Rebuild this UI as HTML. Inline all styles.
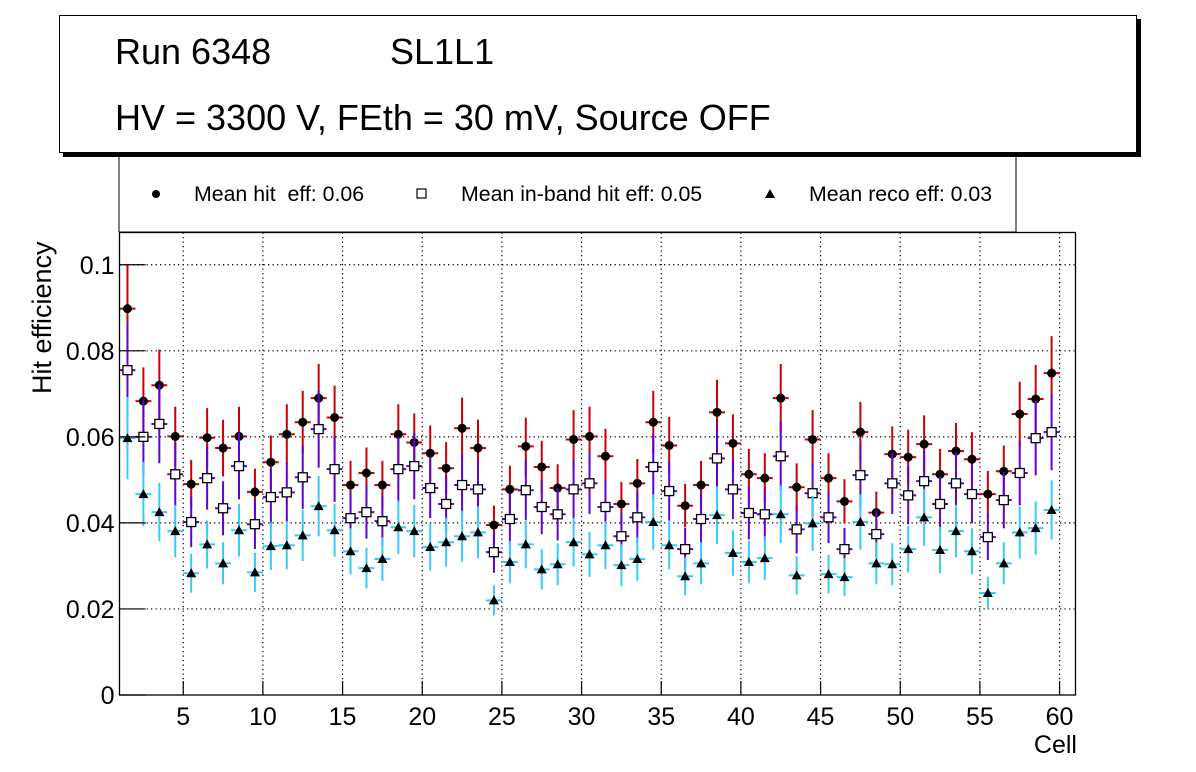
<!DOCTYPE html>
<html><head><meta charset="utf-8"><style>
body{margin:0;background:#fff;}
svg{display:block;font-family:"Liberation Sans",Arial,sans-serif;}
text{white-space:pre;}
</style></head><body>
<svg id="chart" width="1196" height="772" viewBox="0 0 1196 772">
<rect x="0" y="0" width="1196" height="772" fill="#fff"/>
<g id="legendBox">
<rect x="119" y="140" width="897" height="92" fill="#fff" stroke="#000" stroke-width="1"/>
<circle cx="156" cy="194" r="4" fill="#000"/>
<text x="194" y="201" font-size="21.3" xml:space="preserve">Mean hit  eff: 0.06</text>
<rect x="417" y="189" width="9" height="9" fill="#fff" stroke="#000" stroke-width="1.2"/>
<text x="461" y="201" font-size="21.3">Mean in-band hit eff: 0.05</text>
<polygon points="770,189 775,198 765,198" fill="#000"/>
<text x="809" y="201" font-size="21.3">Mean reco eff: 0.03</text>
</g>
<g>
<rect x="63" y="19" width="1078" height="138" fill="#000"/>
<rect x="59.5" y="15.5" width="1077" height="137" fill="#fff" stroke="#000" stroke-width="1"/>
<text x="115" y="64" font-size="36">Run 6348</text>
<text x="390" y="64" font-size="36">SL1L1</text>
<text x="115" y="130" font-size="36">HV = 3300 V, FEth = 30 mV, Source OFF</text>
</g>
<g id="grid"></g>
<g id="marks"></g>
<rect x="119.5" y="232.5" width="956" height="462.5" fill="none" stroke="#000" stroke-width="1.3"/>
<g id="axes"></g>
<text x="1077" y="753" font-size="25" text-anchor="end">Cell</text>
<text transform="translate(51,394) rotate(-90)" font-size="27">Hit efficiency</text>
</svg>
<script>
const cells = Array.from({length:59},(_,i)=>i+1);
const hitEff = [.0898,.0683,.0720,.0601,.0490,.0598,.0574,.0601,.0472,.0541,.0606,.0634,.0690,.0645,.0488,.0516,.0488,.0606,.0587,.0562,.0527,.0620,.0574,.0395,.0478,.0578,.0530,.0481,.0594,.0601,.0555,.0444,.0492,.0634,.0580,.0440,.0488,.0657,.0585,.0513,.0504,.0690,.0483,.0594,.0504,.0450,.0611,.0424,.0560,.0553,.0583,.0513,.0567,.0548,.0467,.0520,.0653,.0688,.0748];
const inbandEff = [.0755,.0600,.0630,.0513,.0402,.0504,.0434,.0532,.0397,.0460,.0471,.0506,.0618,.0525,.0411,.0425,.0404,.0525,.0532,.0481,.0444,.0488,.0478,.0332,.0409,.0476,.0437,.0420,.0478,.0492,.0437,.0369,.0413,.0530,.0474,.0339,.0409,.0550,.0478,.0423,.0420,.0555,.0385,.0469,.0413,.0339,.0511,.0374,.0492,.0464,.0497,.0444,.0492,.0467,.0367,.0453,.0516,.0597,.0611];
const recoEff = [.0597,.0467,.0425,.0381,.0283,.0350,.0306,.0383,.0285,.0346,.0348,.0371,.0439,.0383,.0334,.0295,.0316,.0390,.0381,.0344,.0355,.0369,.0378,.0220,.0309,.0350,.0292,.0304,.0355,.0327,.0348,.0302,.0316,.0402,.0348,.0276,.0306,.0418,.0330,.0309,.0318,.0420,.0278,.0399,.0281,.0274,.0402,.0306,.0304,.0339,.0413,.0337,.0381,.0334,.0237,.0306,.0378,.0388,.0430];
const relErr = {hit:0.115, band:0.145, reco:0.16};
const yTicks = [0,0.02,0.04,0.06,0.08,0.1];
const yTickLabels = ["0","0.02","0.04","0.06","0.08","0.1"];
const xTicks = [5,10,15,20,25,30,35,40,45,50,55,60];

const X0=119.5, X1=1075.5, Y0=695, Y1=232.5, XMIN=1, XMAX=61, YMIN=0, YMAX=0.1075;
const xs = v => X0 + (v-XMIN)/(XMAX-XMIN)*(X1-X0);
const ys = v => Y0 - (v-YMIN)/(YMAX-YMIN)*(Y0-Y1);
const NS="http://www.w3.org/2000/svg";
function mk(tag, attrs, parent){const e=document.createElementNS(NS,tag);for(const k in attrs)e.setAttribute(k,attrs[k]);parent.appendChild(e);return e;}
const grid=document.getElementById('grid'), axes=document.getElementById('axes'), marks=document.getElementById('marks');

yTicks.forEach((t,i)=>{
  const y=ys(t);
  if(i>0){const g=mk('line',{x1:X0,x2:X1,y1:y,y2:y,stroke:'#000','stroke-width':1.2,'stroke-dasharray':'1.3 3.2'},grid);
  
  }
  const tk=mk('line',{x1:X0,x2:X0+26,y1:y,y2:y,stroke:'#000','stroke-width':1.2},axes);
  
  
  const tx=mk('text',{x:X0-5,y:y+9,'font-size':25,'text-anchor':'end'},axes);
  tx.textContent=yTickLabels[i];
  
  
});
xTicks.forEach(t=>{
  const x=xs(t);
  const g=mk('line',{x1:x,x2:x,y1:Y1,y2:Y0,stroke:'#000','stroke-width':1.2,'stroke-dasharray':'1.3 3.2'},grid);
  
  
  const tk=mk('line',{x1:x,x2:x,y1:Y0-14,y2:Y0,stroke:'#000','stroke-width':1.2},axes);
  
  
  const tx=mk('text',{x:x,y:Y0+30,'font-size':25,'text-anchor':'middle'},axes);
  tx.textContent=String(t);
  
  
});

function series(vals, err, color, kind){
  const g=mk('g',{},marks);
  
  
  vals.forEach((v,i)=>{
    const c=cells[i]+0.5, x=xs(c), y=ys(v), e=v*err;
    mk('line',{x1:x,x2:x,y1:ys(v+e),y2:ys(v-e),stroke:color,'stroke-width':2},g);
    mk('line',{x1:xs(c-0.5),x2:xs(c+0.5),y1:y,y2:y,stroke:color,'stroke-width':2},g);
    let m;
    if(kind==='hit'){m=mk('circle',{cx:x,cy:y,r:4.5,fill:'#000'},g);}
    else if(kind==='inband'){m=mk('rect',{x:x-4.5,y:y-4.5,width:9,height:9,fill:'#fff',stroke:'#000','stroke-width':1.3},g);}
    else {m=mk('polygon',{points:`${x},${y-5} ${x+5},${y+4} ${x-5},${y+4}`,fill:'#000'},g);}
    
    
  });
}
series(hitEff, relErr.hit, '#cc0000', 'hit');
series(inbandEff, relErr.band, '#6600cc', 'inband');
series(recoEff, relErr.reco, '#33ccff', 'reco');
</script>
</body></html>
